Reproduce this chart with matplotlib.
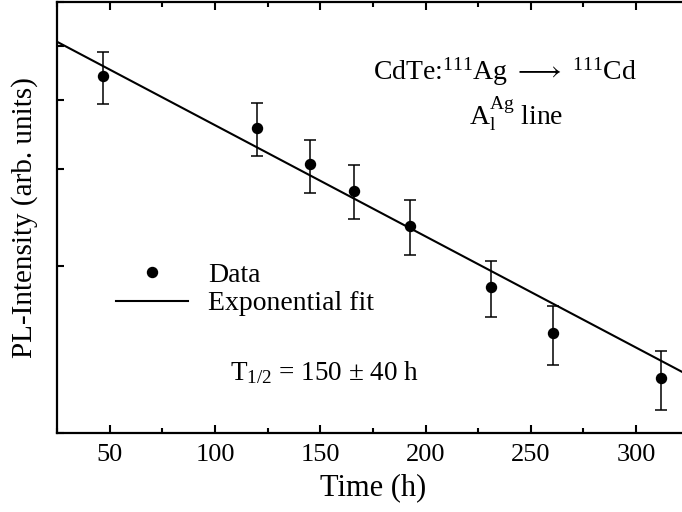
import numpy as np
import matplotlib
matplotlib.use('Agg')
import matplotlib.pyplot as plt
from matplotlib.ticker import MultipleLocator, FixedLocator, NullFormatter
from matplotlib.lines import Line2D

plt.rcParams['font.family'] = 'Liberation Serif'
plt.rcParams['mathtext.fontset'] = 'custom'
plt.rcParams['mathtext.rm'] = 'Liberation Serif'
plt.rcParams['mathtext.it'] = 'Liberation Serif'

# Data
time_h = [47, 120, 145, 166, 192.5, 231, 260.5, 312]
intensity = [4.42, 3.56, 3.06, 2.74, 2.37, 1.84, 1.52, 1.26]
err_low = [3.93, 3.16, 2.71, 2.44, 2.10, 1.62, 1.33, 1.10]
err_high = [4.88, 3.94, 3.38, 3.05, 2.64, 2.05, 1.70, 1.41]

# Exponential fit parameters
fit_amp = 5.71
t_half = 150.0

intensity = np.array(intensity)
yerr = [intensity - np.array(err_low), np.array(err_high) - intensity]

fig = plt.figure(figsize=(6.82, 5.12), dpi=100)
ax = fig.add_axes([57 / 682, 1 - 433.3 / 512, 631.8 / 682, 431.3 / 512])

t_fit = np.linspace(25, 325, 50)
ax.plot(t_fit, fit_amp * 2 ** (-t_fit / t_half), color='k', lw=1.5)
ax.errorbar(time_h, intensity, yerr=yerr, fmt='o', color='k', ms=7.2,
            elinewidth=1.1, capsize=4.2, capthick=1.1)

ax.set_yscale('log')
ax.set_xlim(25, 325)
ax.set_ylim(1, 6)
ax.yaxis.set_major_locator(FixedLocator([1, 2, 3, 4, 5, 6]))
ax.yaxis.set_major_formatter(NullFormatter())
ax.yaxis.set_minor_locator(FixedLocator([]))
ax.yaxis.set_minor_formatter(NullFormatter())
ax.xaxis.set_major_locator(MultipleLocator(50))
ax.xaxis.set_minor_locator(MultipleLocator(25))

ax.tick_params(which='both', direction='in', top=True, right=True, width=1.5)
ax.tick_params(which='major', length=6, labelsize=19, pad=8)
ax.tick_params(which='minor', length=3.5)
ax.tick_params(axis='y', which='major', length=5)
for s in ax.spines.values():
    s.set_linewidth(1.6)

ax.set_xlabel('Time (h)', fontsize=22, labelpad=5)
ax.set_ylabel('PL-Intensity (arb. units)', fontsize=21, labelpad=6)

ax.text(0.709, 0.819, r'CdTe:$^{111}$Ag $\longrightarrow$ $^{111}$Cd', transform=ax.transAxes,
        ha='center', va='baseline', fontsize=20)
ax.text(0.727, 0.715, r'A$_{\mathrm{l}}^{\mathrm{Ag}}$ line', transform=ax.transAxes,
        ha='center', va='baseline', fontsize=20)
ax.text(0.274, 0.124, r'T$_{1/2}$ = 150 $\pm$ 40 h', transform=ax.transAxes,
        ha='left', va='baseline', fontsize=19.5)

handles = [Line2D([], [], ls='none', marker='o', color='k', ms=7.2),
           Line2D([], [], color='k', lw=1.5)]
ax.legend(handles, ['Data', 'Exponential fit'], loc='upper left',
          bbox_to_anchor=(0.0934, 0.397), frameon=False, fontsize=20,
          borderpad=0, borderaxespad=0,
          handlelength=2.6, handletextpad=0.72, labelspacing=0.12)

fig.savefig('out.png', dpi=100)
